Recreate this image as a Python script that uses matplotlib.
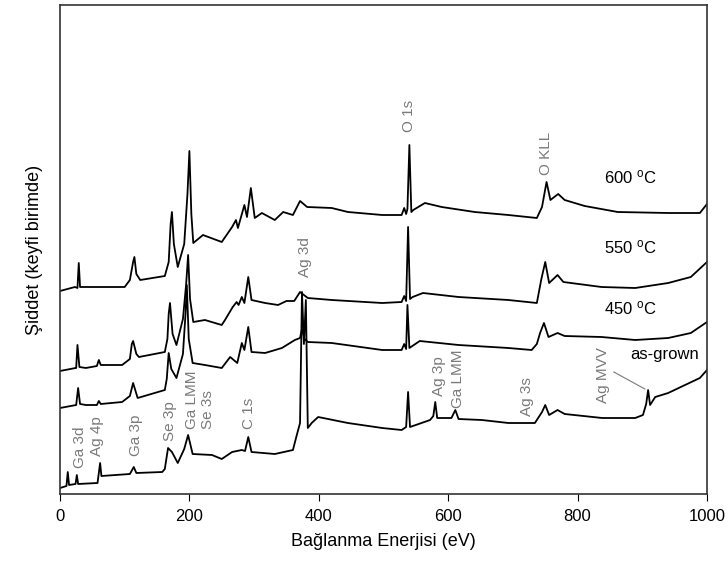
import numpy as np
import matplotlib
matplotlib.use("Agg")
import matplotlib.pyplot as plt

plt.rcParams['font.family'] = ['Liberation Sans', 'DejaVu Sans']
plt.rcParams['mathtext.default'] = 'regular'

# binding energy (eV) / intensity (arb. units)
e_600 = [0, 23, 27, 29, 31, 39, 100, 108, 113, 115, 118, 124, 162, 168, 171, 173, 176, 182, 192, 197, 200, 203,
         206, 221, 250, 266, 272, 275, 285, 289, 295, 301, 312, 332, 345, 360, 371, 382, 420, 445, 498, 528, 532,
         535, 537, 540, 543, 546, 564, 590, 641, 693, 737, 745, 752, 758, 770, 780, 811, 862, 940, 989, 1000]
i_600 = [203, 207, 206, 231, 207, 207, 207, 214, 232, 237, 220, 214, 218, 232, 270, 282, 250, 227, 250, 300, 343, 280,
         251, 259, 252, 267, 274, 266, 289, 277, 306, 276, 281, 274, 282, 279, 293, 287, 286, 282, 279, 279, 286,
         280, 285, 349, 282, 284, 291, 287, 282, 279, 276, 287, 312, 294, 300, 294, 288, 282, 281, 281, 290]

e_550 = [0, 24, 25, 27, 30, 40, 57, 60, 63, 96, 108, 111, 113, 118, 122, 162, 166, 168, 170, 174, 180, 190, 195,
         198, 201, 206, 224, 250, 255, 267, 273, 276, 281, 285, 291, 296, 317, 337, 350, 362, 371, 383, 420, 498,
         528, 532, 535, 538, 541, 545, 561, 616, 693, 737, 744, 750, 756, 769, 778, 837, 889, 940, 975, 1000]
i_550 = [123, 126, 126, 149, 127, 126, 128, 134, 129, 129, 135, 150, 153, 140, 137, 142, 155, 180, 191, 160, 149, 175, 210,
         239, 195, 172, 174, 169, 174, 187, 192, 189, 197, 191, 217, 194, 191, 189, 193, 193, 202, 196, 194, 191,
         192, 198, 193, 267, 195, 197, 201, 197, 194, 191, 215, 232, 211, 219, 212, 207, 206, 211, 217, 232]

e_450 = [0, 25, 28, 31, 40, 57, 60, 63, 96, 108, 113, 120, 162, 165, 168, 172, 180, 190, 194, 196, 199, 205, 224,
         250, 263, 274, 281, 285, 291, 296, 317, 343, 363, 371, 374, 378, 383, 420, 498, 528, 532, 535, 537,
         540, 556, 616, 693, 729, 737, 742, 748, 755, 769, 780, 837, 889, 940, 975, 1000]
i_450 = [86, 89, 106, 90, 89, 89, 93, 90, 92, 98, 111, 96, 104, 115, 141, 125, 116, 140, 180, 209, 155, 131, 129,
         126, 137, 131, 151, 144, 167, 142, 141, 146, 154, 156, 165, 155, 152, 151, 144, 144, 150, 145, 189,
         146, 153, 149, 146, 144, 150, 161, 171, 157, 161, 158, 157, 154, 156, 161, 172]

e_asg = [0, 10, 12, 14, 24, 26, 28, 58, 62, 64, 108, 114, 118, 158, 162, 167, 170, 173, 182, 192, 198, 205,
         235, 250, 266, 281, 286, 291, 296, 332, 360, 366, 371, 374, 377, 380, 383, 389, 399, 445, 498, 528,
         535, 538, 541, 572, 577, 580, 583, 605, 611, 616, 652, 693, 734, 745, 750, 756, 769, 780, 838, 889,
         901, 906, 909, 912, 920, 940, 966, 989, 1000]
i_asg = [6, 8, 22, 9, 10, 19, 10, 11, 31, 18, 20, 27, 21, 22, 25, 46, 44, 42, 31, 45, 59, 40,
         39, 35, 42, 44, 43, 57, 42, 40, 44, 59, 71, 202, 150, 194, 66, 71, 77, 71, 66, 64,
         67, 102, 67, 74, 78, 92, 76, 76, 84, 75, 74, 71, 71, 82, 89, 79, 84, 80, 76, 76,
         79, 90, 104, 89, 97, 101, 109, 116, 124]

# peak labels: text, energy, bottom of text
peak_names = ["Ga 3d", "Ag 4p", "Ga 3p", "Se 3p", "Ga LMM", "Se 3s", "C 1s", "Ag 3d", "O 1s", "O KLL",
              "Ag 3p", "Ga LMM", "Ag 3s", "Ag MVV"]
peak_e = [31, 57, 117, 170, 204, 229, 292, 379, 539, 751, 586, 615, 722, 839]
peak_y = [26, 38, 38, 53, 65, 65, 65, 217, 362, 319, 98, 86, 78, 91]

curve_names = ["600 $^{o}$C", "550 $^{o}$C", "450 $^{o}$C", "as-grown"]
curve_label_e = [881, 881, 881, 935]
curve_label_y = [317, 247, 186, 139]

fig = plt.figure(figsize=(7.28, 5.72), dpi=100)
ax = fig.add_axes([60/728, 1 - 494/572, 647/728, 489/572])

for e, i in [(e_600, i_600), (e_550, i_550), (e_450, i_450), (e_asg, i_asg)]:
    ax.plot(e, i, color='black', lw=1.3)

for name, e, y in zip(peak_names, peak_e, peak_y):
    ax.text(e, y, name, rotation=90, ha='center', va='bottom', fontsize=11, color='#7a7a7a')
ax.plot([856, 904], [122, 105], color='#7a7a7a', lw=0.8)

for name, e, y in zip(curve_names, curve_label_e, curve_label_y):
    ax.text(e, y, name, ha='center', va='center', fontsize=12, color='black')

ax.set_xlim(0, 1000)
ax.set_ylim(0, 489)
ax.set_xticks([0, 200, 400, 600, 800, 1000])
ax.set_yticks([])
ax.tick_params(axis='x', direction='out', length=5, labelsize=12, pad=6)
for s in ax.spines.values():
    s.set_color('#333333')
    s.set_linewidth(1.2)
ax.set_xlabel("Bağlanma Enerjisi (eV)", fontsize=13, labelpad=6)
ax.set_ylabel("Şiddet (keyfi birimde)", fontsize=13, labelpad=12)

fig.savefig("out.png", dpi=100)
